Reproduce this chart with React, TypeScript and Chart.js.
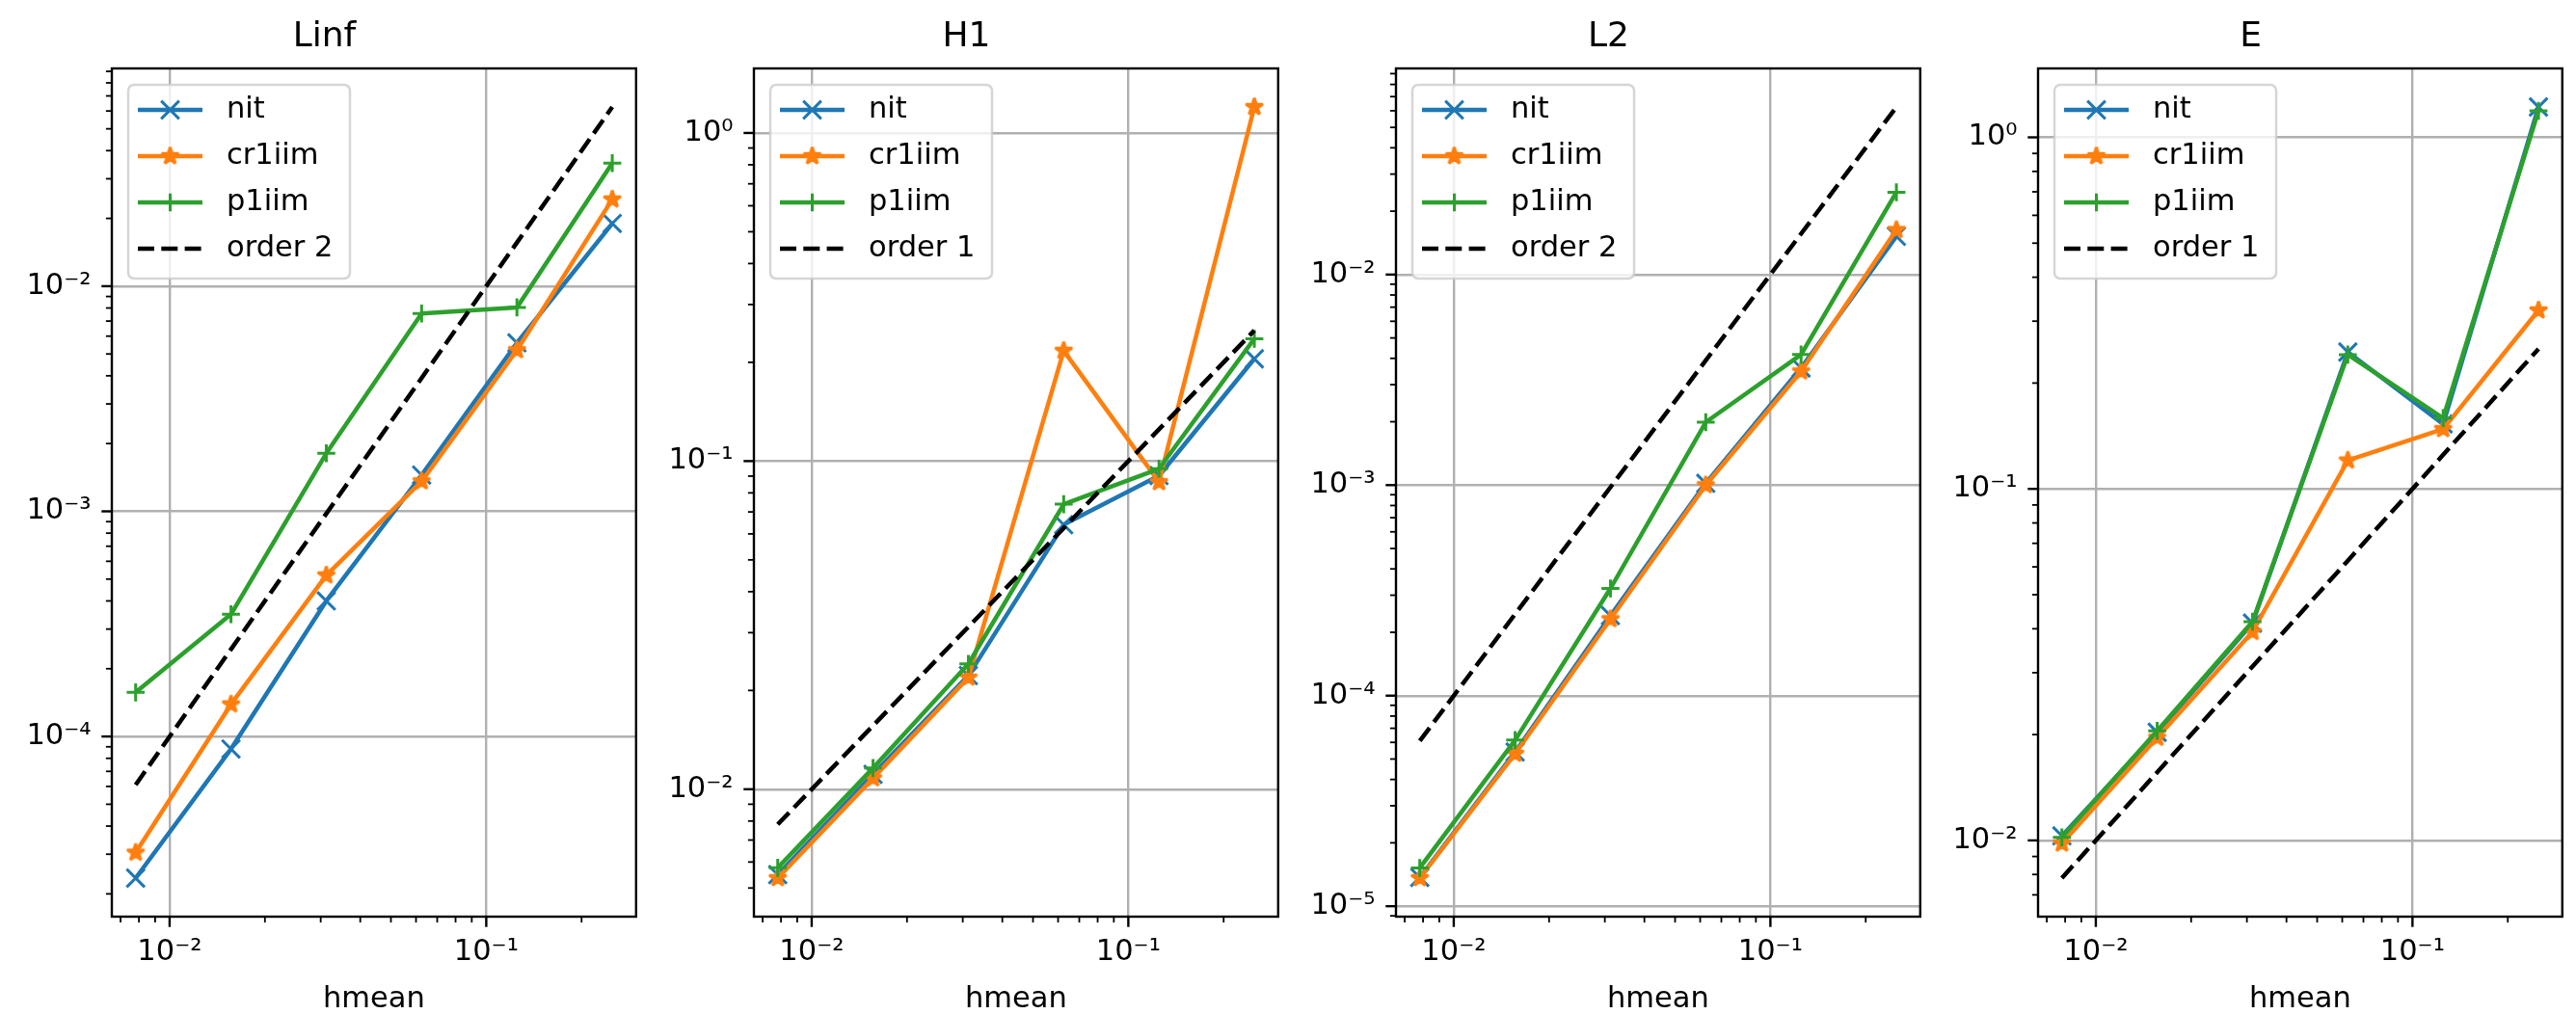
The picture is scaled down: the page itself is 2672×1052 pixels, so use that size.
import React, { useEffect, useRef } from 'react';
import { Chart, registerables } from 'chart.js';

Chart.register(...registerables);

// ---------------- data ----------------
const hmean = [0.0078125, 0.015625, 0.03125, 0.0625, 0.125, 0.25];

const panelTitles = ['Linf', 'H1', 'L2', 'E'];
const seriesLabels = ['nit', 'cr1iim', 'p1iim'];
const referenceLabels = ['order 2', 'order 1', 'order 2', 'order 1'];

const linfNit = [2.35e-5, 8.8e-5, 4.0e-4, 1.45e-3, 5.6e-3, 0.019];
const linfCr1iim = [3.05e-5, 1.39e-4, 5.2e-4, 1.36e-3, 5.2e-3, 0.0243];
const linfP1iim = [1.57e-4, 3.49e-4, 1.81e-3, 7.56e-3, 8.05e-3, 0.0352];

const h1Nit = [5.49e-3, 0.0111, 0.0222, 0.064, 0.0903, 0.205];
const h1Cr1iim = [5.36e-3, 0.0108, 0.0219, 0.217, 0.0863, 1.2];
const h1P1iim = [5.76e-3, 0.0116, 0.0241, 0.0739, 0.0948, 0.236];

const l2Nit = [1.37e-5, 5.4e-5, 2.4e-4, 1.02e-3, 3.6e-3, 0.0152];
const l2Cr1iim = [1.36e-5, 5.3e-5, 2.31e-4, 1.0e-3, 3.47e-3, 0.0163];
const l2P1iim = [1.52e-5, 6.15e-5, 3.23e-4, 1.99e-3, 4.17e-3, 0.0246];

const eNit = [0.0103, 0.0203, 0.0415, 0.245, 0.153, 1.22];
const eCr1iim = [9.8e-3, 0.0196, 0.0392, 0.1205, 0.148, 0.322];
const eP1iim = [0.0102, 0.0205, 0.0419, 0.241, 0.159, 1.19];

const order2Ref = [6.1e-5, 2.44e-4, 9.77e-4, 3.91e-3, 1.5625e-2, 6.25e-2];
const order1Ref = [7.8125e-3, 1.5625e-2, 3.125e-2, 6.25e-2, 0.125, 0.25];

const panelSeries = [
  [linfNit, linfCr1iim, linfP1iim, order2Ref],
  [h1Nit, h1Cr1iim, h1P1iim, order1Ref],
  [l2Nit, l2Cr1iim, l2P1iim, order2Ref],
  [eNit, eCr1iim, eP1iim, order1Ref],
];

const xAxisLabel = 'hmean';

// ---------------- style ----------------
const FONT = "'DejaVu Sans', sans-serif";
const COLORS = ['#1f77b4', '#ff7f0e', '#2ca02c', '#000000'];
const CANVAS_W = 676;
const CANVAS_H = 1052;
const PANEL_STEP = 666;
const AX_LEFT = 116;
const AX_RIGHT = 673;
const AX_TOP = 71;
const AX_BOTTOM = 951;
const LW = 4.5;
const TICK_FONT = 30.5;

const SUP: Record<string, string> = {
  '-': '\u207B', '0': '\u2070', '1': '\u00B9', '2': '\u00B2', '3': '\u00B3',
  '4': '\u2074', '5': '\u2075', '6': '\u2076', '7': '\u2077', '8': '\u2078', '9': '\u2079',
};

function isDecade(v: number) {
  const l = Math.log10(v);
  return Math.abs(l - Math.round(l)) < 1e-9;
}

function fmtTick(v: number) {
  if (!isDecade(v)) return '';
  const e = String(Math.round(Math.log10(v)));
  return '10' + e.split('').map((c) => SUP[c] || c).join('');
}

function logLimits(values: number[]) {
  const lo = Math.log10(Math.min(...values));
  const hi = Math.log10(Math.max(...values));
  const m = 0.05 * (hi - lo);
  return [Math.pow(10, lo - m), Math.pow(10, hi + m)];
}

function buildLogTicks(min: number, max: number) {
  const ticks: { value: number; major: boolean }[] = [];
  const e0 = Math.floor(Math.log10(min)) - 1;
  const e1 = Math.ceil(Math.log10(max)) + 1;
  for (let e = e0; e <= e1; e++) {
    for (let k = 1; k <= 9; k++) {
      const v = k * Math.pow(10, e);
      if (v >= min && v <= max) ticks.push({ value: v, major: k === 1 });
    }
  }
  return ticks;
}

function makeStar(color: string) {
  const c = document.createElement('canvas');
  c.width = 28;
  c.height = 28;
  const g = c.getContext('2d')!;
  const R = 9.3;
  const r = R * 0.381966;
  g.beginPath();
  for (let i = 0; i < 10; i++) {
    const ang = -Math.PI / 2 + (i * Math.PI) / 5;
    const rad = i % 2 === 0 ? R : r;
    const px = 14 + rad * Math.cos(ang);
    const py = 14 + rad * Math.sin(ang);
    if (i === 0) g.moveTo(px, py);
    else g.lineTo(px, py);
  }
  g.closePath();
  g.fillStyle = color;
  g.fill();
  g.lineWidth = 3;
  g.lineJoin = 'bevel';
  g.strokeStyle = color;
  g.stroke();
  return c;
}

function drawMarker(ctx: CanvasRenderingContext2D, style: any, x: number, y: number, r: number, color: string) {
  if (style && typeof style === 'object') {
    ctx.drawImage(style, x - style.width / 2, y - style.height / 2);
    return;
  }
  ctx.save();
  ctx.setLineDash([]);
  ctx.strokeStyle = color;
  ctx.lineWidth = 3;
  ctx.beginPath();
  if (style === 'crossRot') {
    const d = r * Math.SQRT1_2;
    ctx.moveTo(x - d, y - d);
    ctx.lineTo(x + d, y + d);
    ctx.moveTo(x + d, y - d);
    ctx.lineTo(x - d, y + d);
  } else if (style === 'cross') {
    ctx.moveTo(x - r, y);
    ctx.lineTo(x + r, y);
    ctx.moveTo(x, y - r);
    ctx.lineTo(x, y + r);
  }
  ctx.stroke();
  ctx.restore();
}

const decorPlugin = {
  id: 'mplDecor',
  afterDraw(chart: any) {
    const { ctx, chartArea: a, scales } = chart;
    ctx.save();
    // tick marks
    ctx.strokeStyle = '#000';
    for (const t of scales.x.ticks) {
      const p = scales.x.getPixelForValue(t.value);
      const major = isDecade(t.value);
      ctx.lineWidth = major ? 2.4 : 1.8;
      ctx.beginPath();
      ctx.moveTo(p, a.bottom);
      ctx.lineTo(p, a.bottom + (major ? 10.7 : 6.1));
      ctx.stroke();
    }
    for (const t of scales.y.ticks) {
      const p = scales.y.getPixelForValue(t.value);
      const major = isDecade(t.value);
      ctx.lineWidth = major ? 2.4 : 1.8;
      ctx.beginPath();
      ctx.moveTo(a.left, p);
      ctx.lineTo(a.left - (major ? 10.7 : 6.1), p);
      ctx.stroke();
    }
    // spines
    ctx.lineWidth = 2.4;
    ctx.strokeRect(a.left, a.top, a.right - a.left, a.bottom - a.top);

    // legend
    const fx = a.left + 17;
    const fy = a.top + 17;
    const fw = 230;
    const fh = 201;
    const rr = 6;
    ctx.beginPath();
    ctx.moveTo(fx + rr, fy);
    ctx.lineTo(fx + fw - rr, fy);
    ctx.arcTo(fx + fw, fy, fx + fw, fy + rr, rr);
    ctx.lineTo(fx + fw, fy + fh - rr);
    ctx.arcTo(fx + fw, fy + fh, fx + fw - rr, fy + fh, rr);
    ctx.lineTo(fx + rr, fy + fh);
    ctx.arcTo(fx, fy + fh, fx, fy + fh - rr, rr);
    ctx.lineTo(fx, fy + rr);
    ctx.arcTo(fx, fy, fx + rr, fy, rr);
    ctx.closePath();
    ctx.fillStyle = 'rgba(255,255,255,0.8)';
    ctx.fill();
    ctx.lineWidth = 2.5;
    ctx.strokeStyle = 'rgba(204,204,204,0.8)';
    ctx.stroke();

    chart.data.datasets.forEach((ds: any, i: number) => {
      const y = a.top + 43 + 48 * i;
      const x0 = fx + 10;
      const x1 = fx + 77;
      ctx.save();
      ctx.strokeStyle = ds.borderColor;
      ctx.lineWidth = LW;
      ctx.setLineDash(ds.borderDash || []);
      ctx.lineCap = 'butt';
      ctx.beginPath();
      ctx.moveTo(x0, y);
      ctx.lineTo(x1, y);
      ctx.stroke();
      ctx.restore();
      if (ds.pointRadius > 0) drawMarker(ctx, ds.pointStyle, (x0 + x1) / 2, y, ds.pointRadius, ds.borderColor);
      ctx.fillStyle = '#000';
      ctx.font = `${TICK_FONT}px ${FONT}`;
      ctx.textBaseline = 'middle';
      ctx.textAlign = 'left';
      ctx.fillText(ds.label, fx + 102, y);
    });
    ctx.restore();
  },
};

function Panel({ index }: { index: number }) {
  const ref = useRef<HTMLCanvasElement | null>(null);

  useEffect(() => {
    const canvas = ref.current;
    if (!canvas) return;
    const series = panelSeries[index];
    const star = makeStar(COLORS[1]);
    const styles: any[] = ['crossRot', star, 'cross', false];
    const radii = [13.2, 9.3, 9.3, 0];
    const labels = [...seriesLabels, referenceLabels[index]];

    const datasets = series.map((vals, i) => ({
      label: labels[i],
      data: hmean.map((h, j) => ({ x: h, y: vals[j] })),
      borderColor: COLORS[i],
      backgroundColor: COLORS[i],
      borderWidth: LW,
      borderDash: i === 3 ? [17, 7.3] : [],
      borderJoinStyle: 'round',
      borderCapStyle: 'butt',
      pointStyle: styles[i],
      pointRadius: radii[i],
      pointBorderWidth: 3,
      pointBorderColor: COLORS[i],
      pointBackgroundColor: COLORS[i],
      tension: 0,
      fill: false,
      order: 3 - i,
    }));

    const allY = series.flat();
    const [ymin, ymax] = logLimits(allY);
    const [xmin, xmax] = logLimits(hmean);

    const gridColor = (c: any) => (c.tick && isDecade(c.tick.value) ? '#b0b0b0' : 'rgba(0,0,0,0)');

    const chart = new Chart(canvas, {
      type: 'line',
      data: { datasets } as any,
      plugins: [decorPlugin],
      options: {
        responsive: false,
        devicePixelRatio: 1,
        animation: false,
        events: [],
        layout: { padding: { left: 0, right: CANVAS_W - AX_RIGHT, top: 0, bottom: 0 } },
        plugins: {
          legend: { display: false },
          tooltip: { enabled: false },
          title: {
            display: true,
            text: panelTitles[index],
            color: '#000',
            font: { family: FONT, size: 36, weight: 'normal', lineHeight: 1 },
            padding: { top: 20.5, bottom: AX_TOP - 36 - 20.5 },
          },
        },
        scales: {
          x: {
            type: 'logarithmic',
            position: 'bottom',
            min: xmin,
            max: xmax,
            bounds: 'data',
            afterBuildTicks: (s: any) => {
              s.ticks = buildLogTicks(s.min, s.max);
            },
            afterFit: (s: any) => {
              s.height = CANVAS_H - AX_BOTTOM;
            },
            grid: { color: gridColor, lineWidth: 2.4, drawTicks: false },
            border: { display: false },
            ticks: {
              autoSkip: false,
              maxRotation: 0,
              minRotation: 0,
              padding: 19,
              color: '#000',
              font: { family: FONT, size: TICK_FONT },
              callback: (v: any) => fmtTick(Number(v)),
            },
            title: {
              display: true,
              text: xAxisLabel,
              color: '#000',
              font: { family: FONT, size: TICK_FONT, lineHeight: 1 },
              padding: { top: 0, bottom: 0 },
            },
          },
          y: {
            type: 'logarithmic',
            position: 'left',
            min: ymin,
            max: ymax,
            bounds: 'data',
            afterBuildTicks: (s: any) => {
              s.ticks = buildLogTicks(s.min, s.max);
            },
            afterFit: (s: any) => {
              s.width = AX_LEFT;
            },
            grid: { color: gridColor, lineWidth: 2.4, drawTicks: false },
            border: { display: false },
            ticks: {
              autoSkip: false,
              padding: 21.4,
              color: '#000',
              font: { family: FONT, size: TICK_FONT },
              callback: (v: any) => fmtTick(Number(v)),
            },
          },
        },
      } as any,
    });
    return () => chart.destroy();
  }, [index]);

  return (
    <canvas
      ref={ref}
      width={CANVAS_W}
      height={CANVAS_H}
      style={{ position: 'absolute', left: index * PANEL_STEP, top: 0, width: CANVAS_W, height: CANVAS_H }}
    />
  );
}

export default function App() {
  return (
    <div
      style={{
        position: 'absolute',
        left: 0,
        top: 0,
        width: 2672,
        height: 1052,
        background: '#ffffff',
        overflow: 'hidden',
      }}
    >
      {panelTitles.map((_, i) => (
        <Panel key={i} index={i} />
      ))}
    </div>
  );
}
